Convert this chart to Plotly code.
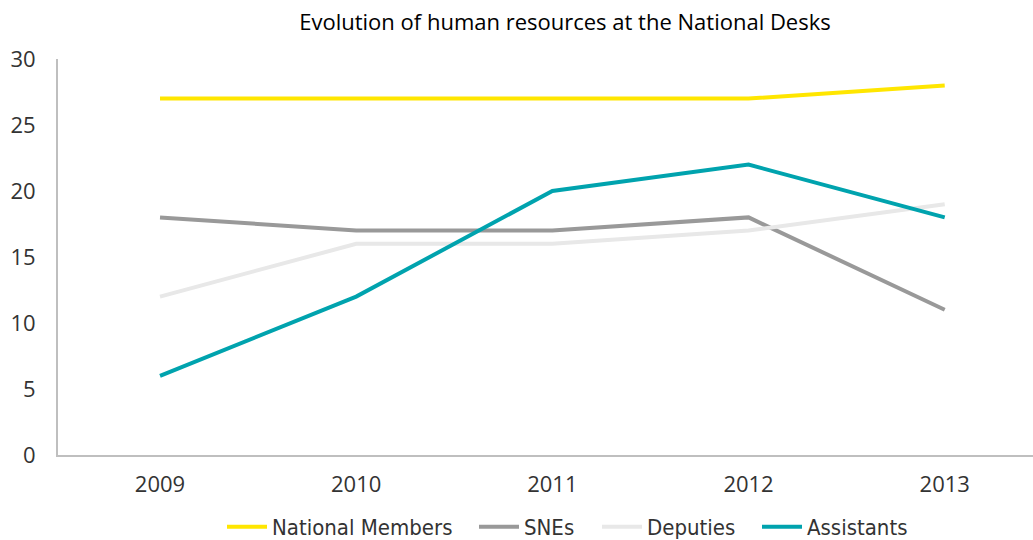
import plotly.graph_objects as go

years = ["2009", "2010", "2011", "2012", "2013"]
national_members = [27, 27, 27, 27, 28]
snes = [18, 17, 17, 18, 11]
deputies = [12, 16, 16, 17, 19]
assistants = [6, 12, 20, 22, 18]

series = [
    ("National Members", national_members, "#FFE600"),
    ("SNEs", snes, "#999999"),
    ("Deputies", deputies, "#E8E8E8"),
    ("Assistants", assistants, "#00A3AE"),
]
legend_starts_px = [227, 479, 602, 762]

W, H = 1033, 540
fig = go.Figure()
legend_ids = ["legend", "legend2", "legend3", "legend4"]
for (name, vals, color), lid in zip(series, legend_ids):
    fig.add_trace(go.Scatter(x=years, y=vals, name=name, mode="lines",
                             line=dict(color=color, width=4), legend=lid))

legend_font = dict(family="DejaVu Sans Condensed, Liberation Sans Narrow, sans-serif",
                   size=22, color="#333333")
legend_layout = {}
for lid, px in zip(legend_ids, legend_starts_px):
    legend_layout[lid] = dict(orientation="h", xref="container", yref="container",
                              x=(px - 5) / W, xanchor="left",
                              y=1 - 527 / H, yanchor="middle",
                              font=legend_font, itemwidth=40,
                              bgcolor="rgba(0,0,0,0)", borderwidth=0)

fig.update_layout(
    template="none",
    width=W, height=H,
    margin=dict(l=58, r=0, t=59, b=85, autoexpand=False),
    paper_bgcolor="white", plot_bgcolor="white",
    title=dict(text="Evolution of human resources at the National Desks",
               x=565 / W, xanchor="center", y=1 - 22 / H, yanchor="middle",
               font=dict(family="Open Sans", size=22, color="#000000", weight=500)),
    showlegend=True,
    xaxis=dict(type="category", range=[-0.52, 4.45], showgrid=False, zeroline=False,
               automargin=False,
               showline=True, linecolor="#BFBFBF", linewidth=2, ticks="",
               ticklabelstandoff=9,
               tickfont=dict(family="Open Sans", size=22, color="#333333")),
    yaxis=dict(range=[0, 30], dtick=5, showgrid=False, zeroline=False,
               automargin=False,
               showline=True, linecolor="#BFBFBF", linewidth=2, ticks="",
               ticklabelstandoff=16,
               tickfont=dict(family="Open Sans", size=22, color="#333333")),
    **legend_layout,
)

fig.write_html("out.html", config={"displayModeBar": False},
               post_script="document.body.style.margin='0';document.body.style.overflow='hidden';")
